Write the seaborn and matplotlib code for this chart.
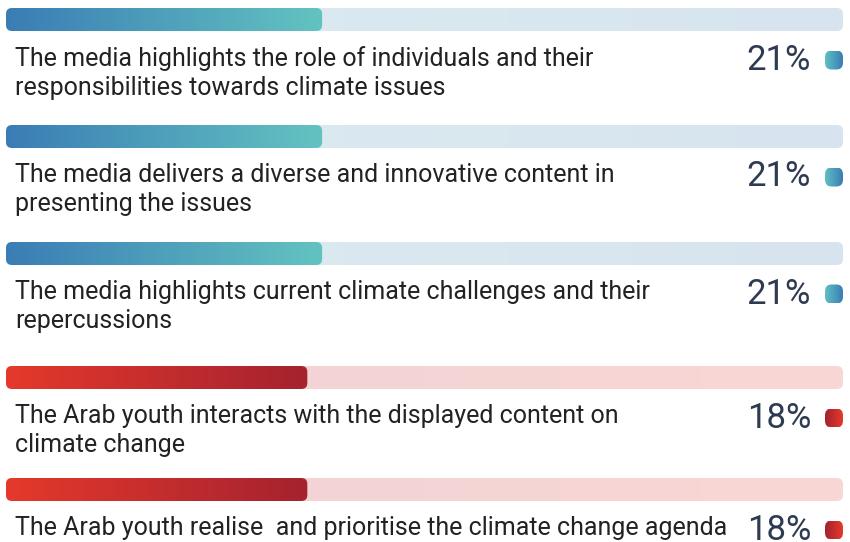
import numpy as np
import matplotlib
matplotlib.use("Agg")
import matplotlib.pyplot as plt
from matplotlib.colors import LinearSegmentedColormap
from matplotlib.patches import FancyBboxPatch
import seaborn as sns

# --- Data ---
statements = [
    "The media highlights the role of individuals and their\nresponsibilities towards climate issues",
    "The media delivers a diverse and innovative content in\npresenting the issues",
    "The media highlights current climate challenges and their\nrepercussions",
    "The Arab youth interacts with the displayed content on\nclimate change",
    "The Arab youth realise  and prioritise the climate change agenda",
]
shares = [21, 21, 21, 18, 18]
groups = ["media", "media", "media", "youth", "youth"]
# full length of the track for each group
scale_max = {"media": 55.6, "youth": 50.0}

# --- Layout (pixels) ---
FIG_W, FIG_H, DPI = 850, 542, 100
BAR_LEFT, BAR_RIGHT, BAR_H = 6, 843, 23
ROW_TOPS = [8, 125, 242, 366, 478]
TEXT_TOP = 38      # bar top -> top of first text line
PCT_OFFSET = 52    # bar top -> centre of the percentage
RADIUS = 6

colours = {
    "media": {"fill": ["#3a7db5", "#63c3c1"], "track": ["#dcecf1", "#d7e4ef"],
              "dot": ["#5fc0c2", "#3a7db5"]},
    "youth": {"fill": ["#e5392b", "#a5222f"], "track": ["#f0d1d4", "#f9d7d5"],
              "dot": ["#a5222f", "#e5392b"]},
}

sns.set_theme(style="white")
plt.rcParams["font.family"] = ["Roboto", "DejaVu Sans"]


def gradient_box(ax, x0, y0, w, h, cols, xpp, ypp):
    cmap = LinearSegmentedColormap.from_list("grad", cols)
    patch = FancyBboxPatch((x0, y0), w, h,
                           boxstyle=f"round,pad=0,rounding_size={RADIUS * xpp}",
                           mutation_aspect=ypp / xpp, transform=ax.transData,
                           facecolor="none", edgecolor="none")
    ax.add_patch(patch)
    im = ax.imshow(np.linspace(0, 1, 256)[None, :], cmap=cmap, aspect="auto",
                   extent=(x0, x0 + w, y0, y0 + h), interpolation="bicubic", zorder=2)
    im.set_clip_path(patch)


fig = plt.figure(figsize=(FIG_W / DPI, FIG_H / DPI), dpi=DPI)
bar_w = BAR_RIGHT - BAR_LEFT

for stmt, share, grp, top in zip(statements, shares, groups, ROW_TOPS):
    ax = fig.add_axes([BAR_LEFT / FIG_W, 1 - (top + BAR_H) / FIG_H,
                       bar_w / FIG_W, BAR_H / FIG_H])
    sns.barplot(x=[share], y=[grp], orient="h", width=1.0, ax=ax, color="#999999")
    bar = ax.patches[0]
    x0, y0, w, h = bar.get_x(), bar.get_y(), bar.get_width(), bar.get_height()
    bar.set_visible(False)

    xmax = scale_max[grp]
    xpp = xmax / bar_w
    ypp = h / BAR_H
    gradient_box(ax, 0, y0, xmax, h, colours[grp]["track"], xpp, ypp)
    gradient_box(ax, x0, y0, w, h, colours[grp]["fill"], xpp, ypp)
    ax.set_xlim(0, xmax)
    ax.set_ylim(y0 + h, y0)
    ax.axis("off")

    fig.text(15 / FIG_W, 1 - (top + TEXT_TOP) / FIG_H, stmt, ha="left", va="top",
             fontsize=18, color="#222222", linespacing=1.28)

    yc = 1 - (top + PCT_OFFSET) / FIG_H
    fig.text(811 / FIG_W, yc, f"{share}%", ha="right", va="center",
             fontsize=25, color="#2e3a50")

    # small rounded marker next to the percentage
    dax = fig.add_axes([825 / FIG_W, yc - 9.5 / FIG_H, 18 / FIG_W, 19 / FIG_H])
    dax.axis("off")
    dpatch = FancyBboxPatch((0, 0), 1, 1, boxstyle="round,pad=0,rounding_size=0.36",
                            transform=dax.transAxes, facecolor="none", edgecolor="none")
    dax.add_patch(dpatch)
    dim = dax.imshow(np.linspace(0, 1, 64)[None, :],
                     cmap=LinearSegmentedColormap.from_list("d", colours[grp]["dot"]),
                     aspect="auto", extent=(0, 1, 0, 1))
    dim.set_clip_path(dpatch)
    dax.set_xlim(0, 1)
    dax.set_ylim(0, 1)

fig.savefig("out.png", dpi=DPI)
